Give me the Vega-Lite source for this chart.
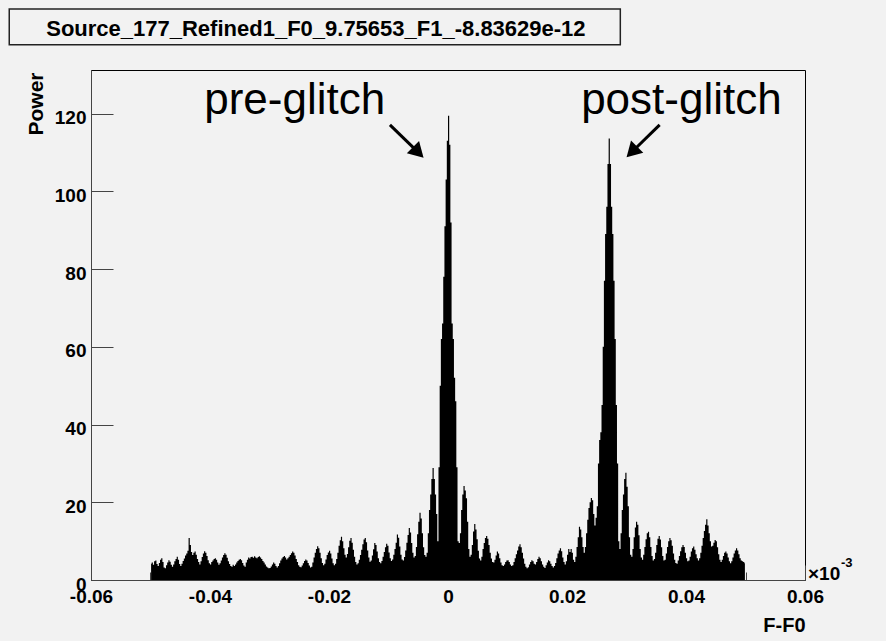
{
  "$schema": "https://vega.github.io/schema/vega-lite/v6.json",
  "width": 714,
  "height": 510,
  "autosize": {"type": "none"},
  "padding": {"left": 91, "top": 70, "right": 81, "bottom": 61},
  "background": "#f2f2f2",
  "config": {
    "font": "Liberation Sans",
    "view": {"stroke": "#000", "strokeWidth": 1}
  },
  "datasets": {
    "spectrum": [
      {"f":-0.0499,"p":4.2},{"f":-0.0497,"p":4.5},{"f":-0.0495,"p":3.9},{"f":-0.0493,"p":4.8},{"f":-0.0491,"p":5.0},{"f":-0.0489,"p":4.1},{"f":-0.0487,"p":3.6},{"f":-0.0485,"p":4.4},{"f":-0.0483,"p":5.2},{"f":-0.0481,"p":5.6},
      {"f":-0.0479,"p":4.6},{"f":-0.0477,"p":3.2},{"f":-0.0475,"p":3.0},{"f":-0.0473,"p":3.8},{"f":-0.0471,"p":4.5},{"f":-0.0469,"p":5.1},{"f":-0.0467,"p":4.7},{"f":-0.0465,"p":3.9},{"f":-0.0463,"p":3.4},{"f":-0.0461,"p":4.0},
      {"f":-0.0459,"p":4.8},{"f":-0.0457,"p":5.4},{"f":-0.0455,"p":6.0},{"f":-0.0453,"p":5.2},{"f":-0.0451,"p":4.1},{"f":-0.0449,"p":3.6},{"f":-0.0447,"p":4.2},{"f":-0.0445,"p":4.9},{"f":-0.0443,"p":5.5},{"f":-0.0441,"p":6.3},
      {"f":-0.0439,"p":6.8},{"f":-0.0437,"p":7.5},{"f":-0.0435,"p":10.8},{"f":-0.0433,"p":9.0},{"f":-0.0431,"p":7.2},{"f":-0.0429,"p":6.4},{"f":-0.0427,"p":7.0},{"f":-0.0425,"p":7.3},{"f":-0.0423,"p":6.5},{"f":-0.0421,"p":5.4},
      {"f":-0.0419,"p":4.6},{"f":-0.0417,"p":4.0},{"f":-0.0415,"p":4.8},{"f":-0.0413,"p":5.9},{"f":-0.0411,"p":6.8},{"f":-0.0409,"p":7.4},{"f":-0.0407,"p":7.0},{"f":-0.0405,"p":6.2},{"f":-0.0403,"p":5.1},{"f":-0.0401,"p":4.3},
      {"f":-0.0399,"p":4.0},{"f":-0.0397,"p":4.6},{"f":-0.0395,"p":5.0},{"f":-0.0393,"p":5.4},{"f":-0.0391,"p":5.6},{"f":-0.0389,"p":5.2},{"f":-0.0387,"p":4.5},{"f":-0.0385,"p":3.9},{"f":-0.0383,"p":4.3},{"f":-0.0381,"p":5.0},
      {"f":-0.0379,"p":5.8},{"f":-0.0377,"p":6.4},{"f":-0.0375,"p":6.9},{"f":-0.0373,"p":6.5},{"f":-0.0371,"p":5.7},{"f":-0.0369,"p":4.8},{"f":-0.0367,"p":4.1},{"f":-0.0365,"p":3.6},{"f":-0.0363,"p":3.4},{"f":-0.0361,"p":3.9},
      {"f":-0.0359,"p":3.6},{"f":-0.0357,"p":4.0},{"f":-0.0355,"p":4.5},{"f":-0.0353,"p":4.9},{"f":-0.0351,"p":5.2},{"f":-0.0349,"p":5.4},{"f":-0.0347,"p":5.1},{"f":-0.0345,"p":4.4},{"f":-0.0343,"p":3.7},{"f":-0.0341,"p":3.4},
      {"f":-0.0339,"p":4.5},{"f":-0.0337,"p":5.2},{"f":-0.0335,"p":5.8},{"f":-0.0333,"p":5.5},{"f":-0.0331,"p":5.9},{"f":-0.0329,"p":6.0},{"f":-0.0327,"p":5.7},{"f":-0.0325,"p":6.1},{"f":-0.0323,"p":5.8},{"f":-0.0321,"p":5.6},
      {"f":-0.0319,"p":5.9},{"f":-0.0317,"p":6.1},{"f":-0.0315,"p":5.8},{"f":-0.0313,"p":5.4},{"f":-0.0311,"p":4.9},{"f":-0.0309,"p":4.5},{"f":-0.0307,"p":4.0},{"f":-0.0305,"p":3.5},{"f":-0.0303,"p":3.2},{"f":-0.0301,"p":3.0},
      {"f":-0.0299,"p":3.1},{"f":-0.0297,"p":3.5},{"f":-0.0295,"p":4.0},{"f":-0.0293,"p":4.5},{"f":-0.0291,"p":4.2},{"f":-0.0289,"p":3.6},{"f":-0.0287,"p":3.2},{"f":-0.0285,"p":3.6},{"f":-0.0283,"p":4.3},{"f":-0.0281,"p":5.0},
      {"f":-0.0279,"p":5.5},{"f":-0.0277,"p":5.9},{"f":-0.0275,"p":6.2},{"f":-0.0273,"p":5.8},{"f":-0.0271,"p":5.3},{"f":-0.0269,"p":5.6},{"f":-0.0267,"p":6.0},{"f":-0.0265,"p":6.4},{"f":-0.0263,"p":6.9},{"f":-0.0261,"p":7.3},
      {"f":-0.0259,"p":7.0},{"f":-0.0257,"p":6.3},{"f":-0.0255,"p":5.4},{"f":-0.0253,"p":4.6},{"f":-0.0251,"p":3.8},{"f":-0.0249,"p":3.4},{"f":-0.0247,"p":3.3},{"f":-0.0245,"p":3.7},{"f":-0.0243,"p":4.3},{"f":-0.0241,"p":4.9},
      {"f":-0.0239,"p":5.3},{"f":-0.0237,"p":5.0},{"f":-0.0235,"p":4.4},{"f":-0.0233,"p":3.7},{"f":-0.0231,"p":3.2},{"f":-0.0229,"p":3.4},{"f":-0.0227,"p":4.5},{"f":-0.0225,"p":5.8},{"f":-0.0223,"p":7.0},{"f":-0.0221,"p":8.0},
      {"f":-0.0219,"p":8.7},{"f":-0.0217,"p":8.2},{"f":-0.0215,"p":7.0},{"f":-0.0213,"p":5.6},{"f":-0.0211,"p":4.4},{"f":-0.0209,"p":3.8},{"f":-0.0207,"p":4.2},{"f":-0.0205,"p":5.3},{"f":-0.0203,"p":6.4},{"f":-0.0201,"p":7.1},
      {"f":-0.0199,"p":7.5},{"f":-0.0197,"p":6.8},{"f":-0.0195,"p":5.5},{"f":-0.0193,"p":4.3},{"f":-0.0191,"p":3.8},{"f":-0.0189,"p":4.2},{"f":-0.0187,"p":5.4},{"f":-0.0185,"p":7.0},{"f":-0.0183,"p":8.8},{"f":-0.0181,"p":10.2},
      {"f":-0.0179,"p":11.1},{"f":-0.0177,"p":10.0},{"f":-0.0175,"p":8.2},{"f":-0.0173,"p":6.5},{"f":-0.0171,"p":5.8},{"f":-0.0169,"p":6.7},{"f":-0.0167,"p":8.4},{"f":-0.0165,"p":10.1},{"f":-0.0163,"p":10.8},{"f":-0.0161,"p":9.6},
      {"f":-0.0159,"p":7.8},{"f":-0.0157,"p":6.0},{"f":-0.0155,"p":4.6},{"f":-0.0153,"p":4.0},{"f":-0.0151,"p":4.3},{"f":-0.0149,"p":5.2},{"f":-0.0147,"p":6.4},{"f":-0.0145,"p":7.8},{"f":-0.0143,"p":9.2},{"f":-0.0141,"p":10.4},
      {"f":-0.0139,"p":10.8},{"f":-0.0137,"p":9.7},{"f":-0.0135,"p":7.6},{"f":-0.0133,"p":5.8},{"f":-0.0131,"p":4.7},{"f":-0.0129,"p":5.0},{"f":-0.0127,"p":6.3},{"f":-0.0125,"p":7.9},{"f":-0.0123,"p":9.5},{"f":-0.0121,"p":9.0},
      {"f":-0.0119,"p":7.3},{"f":-0.0117,"p":5.6},{"f":-0.0115,"p":4.6},{"f":-0.0113,"p":4.3},{"f":-0.0111,"p":4.9},{"f":-0.0109,"p":6.0},{"f":-0.0107,"p":7.2},{"f":-0.0105,"p":8.4},{"f":-0.0103,"p":9.3},{"f":-0.0101,"p":8.8},
      {"f":-0.0099,"p":7.1},{"f":-0.0097,"p":5.6},{"f":-0.0095,"p":4.9},{"f":-0.0093,"p":5.3},{"f":-0.0091,"p":6.5},{"f":-0.0089,"p":8.0},{"f":-0.0087,"p":9.6},{"f":-0.0085,"p":11.7},{"f":-0.0083,"p":10.9},{"f":-0.0081,"p":8.6},
      {"f":-0.0079,"p":6.5},{"f":-0.0077,"p":5.3},{"f":-0.0075,"p":5.0},{"f":-0.0073,"p":5.9},{"f":-0.0071,"p":7.6},{"f":-0.0069,"p":9.6},{"f":-0.0067,"p":11.6},{"f":-0.0065,"p":13.4},{"f":-0.0063,"p":12.2},{"f":-0.0061,"p":9.5},
      {"f":-0.0059,"p":7.0},{"f":-0.0057,"p":5.8},{"f":-0.0055,"p":6.2},{"f":-0.0053,"p":8.5},{"f":-0.0051,"p":11.8},{"f":-0.0049,"p":15.0},{"f":-0.0047,"p":17.3},{"f":-0.0045,"p":15.8},{"f":-0.0043,"p":12.0},{"f":-0.0041,"p":8.4},
      {"f":-0.0039,"p":6.4},{"f":-0.0037,"p":6.0},{"f":-0.0035,"p":7.0},{"f":-0.0033,"p":12.0},{"f":-0.0031,"p":18.0},{"f":-0.0029,"p":22.0},{"f":-0.0027,"p":26.0},{"f":-0.0025,"p":28.8},{"f":-0.0023,"p":26.0},{"f":-0.0021,"p":22.0},
      {"f":-0.0019,"p":17.0},{"f":-0.0017,"p":10.0},{"f":-0.0015,"p":29.0},{"f":-0.0013,"p":50.0},{"f":-0.0011,"p":62.0},{"f":-0.0009,"p":66.0},{"f":-0.0007,"p":78.0},{"f":-0.0005,"p":91.0},{"f":-0.0003,"p":103.0},{"f":-0.0001,"p":113.0},
      {"f":0.0001,"p":119.4},{"f":0.0003,"p":112.0},{"f":0.0005,"p":92.0},{"f":0.0007,"p":66.0},{"f":0.0009,"p":62.0},{"f":0.0011,"p":52.0},{"f":0.0013,"p":46.0},{"f":0.0015,"p":29.0},{"f":0.0017,"p":10.0},{"f":0.0019,"p":9.5},
      {"f":0.0021,"p":12.0},{"f":0.0023,"p":18.0},{"f":0.0025,"p":22.0},{"f":0.0027,"p":24.2},{"f":0.0029,"p":23.0},{"f":0.0031,"p":21.0},{"f":0.0033,"p":15.0},{"f":0.0035,"p":8.0},{"f":0.0037,"p":6.0},{"f":0.0039,"p":6.5},
      {"f":0.0041,"p":9.0},{"f":0.0043,"p":12.5},{"f":0.0045,"p":14.4},{"f":0.0047,"p":13.0},{"f":0.0049,"p":10.5},{"f":0.0051,"p":7.5},{"f":0.0053,"p":5.5},{"f":0.0055,"p":5.0},{"f":0.0057,"p":6.0},{"f":0.0059,"p":8.0},
      {"f":0.0061,"p":9.5},{"f":0.0063,"p":10.8},{"f":0.0065,"p":11.3},{"f":0.0067,"p":10.6},{"f":0.0069,"p":9.0},{"f":0.0071,"p":7.0},{"f":0.0073,"p":5.5},{"f":0.0075,"p":4.6},{"f":0.0077,"p":4.5},{"f":0.0079,"p":5.2},
      {"f":0.0081,"p":6.3},{"f":0.0083,"p":7.3},{"f":0.0085,"p":6.8},{"f":0.0087,"p":5.6},{"f":0.0089,"p":4.5},{"f":0.0091,"p":3.8},{"f":0.0093,"p":3.6},{"f":0.0095,"p":4.0},{"f":0.0097,"p":4.6},{"f":0.0099,"p":5.0},
      {"f":0.0101,"p":5.1},{"f":0.0103,"p":4.6},{"f":0.0105,"p":4.0},{"f":0.0107,"p":3.6},{"f":0.0109,"p":3.8},{"f":0.0111,"p":4.6},{"f":0.0113,"p":5.6},{"f":0.0115,"p":6.6},{"f":0.0117,"p":7.6},{"f":0.0119,"p":8.6},
      {"f":0.0121,"p":9.2},{"f":0.0123,"p":8.4},{"f":0.0125,"p":7.0},{"f":0.0127,"p":5.5},{"f":0.0129,"p":4.2},{"f":0.0131,"p":3.4},{"f":0.0133,"p":3.0},{"f":0.0135,"p":3.3},{"f":0.0137,"p":4.0},{"f":0.0139,"p":4.6},
      {"f":0.0141,"p":5.1},{"f":0.0143,"p":4.8},{"f":0.0145,"p":4.2},{"f":0.0147,"p":4.0},{"f":0.0149,"p":4.6},{"f":0.0151,"p":5.4},{"f":0.0153,"p":6.0},{"f":0.0155,"p":5.6},{"f":0.0157,"p":4.8},{"f":0.0159,"p":4.0},
      {"f":0.0161,"p":3.4},{"f":0.0163,"p":3.1},{"f":0.0165,"p":3.8},{"f":0.0167,"p":4.5},{"f":0.0169,"p":5.1},{"f":0.0171,"p":4.8},{"f":0.0173,"p":4.2},{"f":0.0175,"p":3.6},{"f":0.0177,"p":3.2},{"f":0.0179,"p":3.6},
      {"f":0.0181,"p":4.4},{"f":0.0183,"p":5.6},{"f":0.0185,"p":6.8},{"f":0.0187,"p":7.6},{"f":0.0189,"p":8.2},{"f":0.0191,"p":7.4},{"f":0.0193,"p":5.8},{"f":0.0195,"p":4.6},{"f":0.0197,"p":4.0},{"f":0.0199,"p":4.8},
      {"f":0.0201,"p":6.5},{"f":0.0203,"p":8.0},{"f":0.0205,"p":7.2},{"f":0.0207,"p":8.0},{"f":0.0209,"p":7.0},{"f":0.0211,"p":5.2},{"f":0.0213,"p":4.6},{"f":0.0215,"p":6.0},{"f":0.0217,"p":8.5},{"f":0.0219,"p":11.0},
      {"f":0.0221,"p":13.7},{"f":0.0223,"p":13.0},{"f":0.0225,"p":11.0},{"f":0.0227,"p":8.5},{"f":0.0229,"p":7.0},{"f":0.0231,"p":8.5},{"f":0.0233,"p":12.0},{"f":0.0235,"p":15.5},{"f":0.0237,"p":18.5},{"f":0.0239,"p":20.0},
      {"f":0.0241,"p":21.1},{"f":0.0243,"p":20.5},{"f":0.0245,"p":17.0},{"f":0.0247,"p":14.0},{"f":0.0249,"p":16.0},{"f":0.0251,"p":19.0},{"f":0.0253,"p":30.0},{"f":0.0255,"p":36.0},{"f":0.0257,"p":38.0},{"f":0.0259,"p":45.0},
      {"f":0.0261,"p":60.0},{"f":0.0263,"p":77.0},{"f":0.0265,"p":89.0},{"f":0.0267,"p":96.0},{"f":0.0269,"p":107.0},{"f":0.0271,"p":113.6},{"f":0.0273,"p":107.0},{"f":0.0275,"p":96.0},{"f":0.0277,"p":89.0},{"f":0.0279,"p":77.0},
      {"f":0.0281,"p":62.0},{"f":0.0283,"p":45.0},{"f":0.0285,"p":30.0},{"f":0.0287,"p":10.0},{"f":0.0289,"p":8.0},{"f":0.0291,"p":12.0},{"f":0.0293,"p":18.0},{"f":0.0295,"p":22.0},{"f":0.0297,"p":26.0},{"f":0.0299,"p":27.6},
      {"f":0.0301,"p":24.0},{"f":0.0303,"p":19.0},{"f":0.0305,"p":11.0},{"f":0.0307,"p":6.5},{"f":0.0309,"p":6.0},{"f":0.0311,"p":8.0},{"f":0.0313,"p":11.0},{"f":0.0315,"p":13.5},{"f":0.0317,"p":15.0},{"f":0.0319,"p":14.2},
      {"f":0.0321,"p":11.5},{"f":0.0323,"p":8.0},{"f":0.0325,"p":5.8},{"f":0.0327,"p":5.2},{"f":0.0329,"p":6.5},{"f":0.0331,"p":8.5},{"f":0.0333,"p":10.5},{"f":0.0335,"p":12.0},{"f":0.0337,"p":12.4},{"f":0.0339,"p":11.0},
      {"f":0.0341,"p":8.5},{"f":0.0343,"p":6.2},{"f":0.0345,"p":5.0},{"f":0.0347,"p":5.4},{"f":0.0349,"p":7.0},{"f":0.0351,"p":9.0},{"f":0.0353,"p":10.6},{"f":0.0355,"p":11.3},{"f":0.0357,"p":10.4},{"f":0.0359,"p":8.4},
      {"f":0.0361,"p":6.2},{"f":0.0363,"p":5.0},{"f":0.0365,"p":5.2},{"f":0.0367,"p":6.8},{"f":0.0369,"p":8.5},{"f":0.0371,"p":10.0},{"f":0.0373,"p":10.8},{"f":0.0375,"p":10.2},{"f":0.0377,"p":8.8},{"f":0.0379,"p":6.8},
      {"f":0.0381,"p":5.2},{"f":0.0383,"p":4.4},{"f":0.0385,"p":4.2},{"f":0.0387,"p":5.0},{"f":0.0389,"p":6.2},{"f":0.0391,"p":7.4},{"f":0.0393,"p":8.4},{"f":0.0395,"p":9.0},{"f":0.0397,"p":8.5},{"f":0.0399,"p":7.0},
      {"f":0.0401,"p":5.6},{"f":0.0403,"p":4.8},{"f":0.0405,"p":5.0},{"f":0.0407,"p":6.0},{"f":0.0409,"p":7.3},{"f":0.0411,"p":8.2},{"f":0.0413,"p":8.6},{"f":0.0415,"p":7.8},{"f":0.0417,"p":6.6},{"f":0.0419,"p":5.6},
      {"f":0.0421,"p":5.0},{"f":0.0423,"p":5.6},{"f":0.0425,"p":7.0},{"f":0.0427,"p":8.8},{"f":0.0429,"p":10.8},{"f":0.0431,"p":12.6},{"f":0.0433,"p":14.2},{"f":0.0435,"p":15.6},{"f":0.0437,"p":14.0},{"f":0.0439,"p":12.0},
      {"f":0.0441,"p":10.0},{"f":0.0443,"p":8.6},{"f":0.0445,"p":8.8},{"f":0.0447,"p":9.6},{"f":0.0449,"p":10.3},{"f":0.0451,"p":10.0},{"f":0.0453,"p":8.4},{"f":0.0455,"p":6.6},{"f":0.0457,"p":5.2},{"f":0.0459,"p":4.6},
      {"f":0.0461,"p":5.2},{"f":0.0463,"p":6.2},{"f":0.0465,"p":7.0},{"f":0.0467,"p":7.3},{"f":0.0469,"p":6.8},{"f":0.0471,"p":5.8},{"f":0.0473,"p":4.8},{"f":0.0475,"p":4.3},{"f":0.0477,"p":4.8},{"f":0.0479,"p":5.8},
      {"f":0.0481,"p":6.8},{"f":0.0483,"p":7.6},{"f":0.0485,"p":8.2},{"f":0.0487,"p":7.6},{"f":0.0489,"p":6.6},{"f":0.0491,"p":5.6},{"f":0.0493,"p":5.0},{"f":0.0495,"p":4.8},{"f":0.0497,"p":4.6},{"f":0.0499,"p":4.3}
    ],
    "arrows": [
      {"name": "pre", "f": -0.00976, "p": 117.1, "f2": -0.0050, "p2": 110.0},
      {"name": "post", "f": 0.03557, "p": 117.1, "f2": 0.0309, "p2": 110.1}
    ],
    "labels": [
      {"f": -0.02576, "p": 119.9, "text": "pre-glitch"},
      {"f": 0.03923, "p": 119.9, "text": "post-glitch"}
    ],
    "titlebox": [
      {"f": -0.07374, "p": 146.9, "f2": 0.02896, "p2": 137.7, "text": "Source_177_Refined1_F0_9.75653_F1_-8.83629e-12", "tf": -0.0222, "tp": 139.9}
    ],
    "exponent": [
      {"f": 0.06, "p": 0}
    ]
  },
  "layer": [
    {
      "data": {"name": "spectrum"},
      "mark": {"type": "area", "interpolate": "step", "color": "#000"},
      "encoding": {
        "x": {
          "field": "f", "type": "quantitative",
          "scale": {"domain": [-0.06, 0.06], "nice": false, "zero": false},
          "axis": {
            "values": [-0.06, -0.055, -0.05, -0.045, -0.04, -0.035, -0.03, -0.025, -0.02, -0.015, -0.01, -0.005, 0, 0.005, 0.01, 0.015, 0.02, 0.025, 0.03, 0.035, 0.04, 0.045, 0.05, 0.055, 0.06],
            "grid": false,
            "domainColor": "#444",
            "tickColor": "#444",
            "tickSize": {"condition": {"test": "abs(datum.value * 50 - round(datum.value * 50)) < 1e-6", "value": -15}, "value": -8},
            "labelExpr": "abs(datum.value * 50 - round(datum.value * 50)) < 1e-6 ? (datum.value < -1e-9 ? '-' : '') + format(abs(datum.value), '~g') : ''",
            "labelPadding": 22,
            "labelFontSize": 19,
            "labelFontWeight": "bold",
            "labelColor": "#000",
            "labelBaseline": "top",
            "labelFlush": false,
            "labelOverlap": false,
            "title": "F-F0",
            "titleFontSize": 20,
            "titleFontWeight": "bold",
            "titleColor": "#000",
            "titleAnchor": "end",
            "titleAlign": "right",
            "titleBaseline": "alphabetic",
            "titleX": 714,
            "titleY": 51
          }
        },
        "y": {
          "field": "p", "type": "quantitative",
          "scale": {"domain": [0, 131.2], "nice": false},
          "axis": {
            "values": [0, 5, 10, 15, 20, 25, 30, 35, 40, 45, 50, 55, 60, 65, 70, 75, 80, 85, 90, 95, 100, 105, 110, 115, 120, 125, 130],
            "grid": false,
            "domainColor": "#444",
            "tickColor": "#444",
            "tickSize": {"condition": {"test": "datum.value % 20 === 0", "value": -22}, "value": -11},
            "labelExpr": "datum.value % 20 === 0 ? datum.label : ''",
            "labelPadding": 27,
            "labelOffset": 4,
            "labelFontSize": 19,
            "labelFontWeight": "bold",
            "labelColor": "#000",
            "labelAlign": "right",
            "labelBaseline": "middle",
            "labelFlush": false,
            "labelOverlap": false,
            "title": "Power",
            "titleFontSize": 21,
            "titleFontWeight": "bold",
            "titleColor": "#000",
            "titleAngle": 270,
            "titleAnchor": "end",
            "titleAlign": "right",
            "titleBaseline": "middle",
            "titleX": -55,
            "titleY": 2
          }
        }
      }
    },
    {
      "data": {"name": "titlebox"},
      "mark": {"type": "rect", "fill": "#f2f2f2", "stroke": "#222", "strokeWidth": 1.5},
      "encoding": {
        "x": {"field": "f", "type": "quantitative"},
        "x2": {"field": "f2"},
        "y": {"field": "p", "type": "quantitative"},
        "y2": {"field": "p2"}
      }
    },
    {
      "data": {"name": "titlebox"},
      "mark": {"type": "text", "align": "center", "baseline": "alphabetic", "fontSize": 22, "fontWeight": "bold", "color": "#000"},
      "encoding": {
        "x": {"field": "tf", "type": "quantitative"},
        "y": {"field": "tp", "type": "quantitative"},
        "text": {"field": "text"}
      }
    },
    {
      "data": {"name": "labels"},
      "mark": {"type": "text", "align": "center", "baseline": "alphabetic", "fontSize": 44, "color": "#000"},
      "encoding": {
        "x": {"field": "f", "type": "quantitative"},
        "y": {"field": "p", "type": "quantitative"},
        "text": {"field": "text"}
      }
    },
    {
      "data": {"name": "arrows"},
      "mark": {"type": "rule", "strokeWidth": 3, "color": "#000"},
      "encoding": {
        "x": {"field": "f", "type": "quantitative"},
        "y": {"field": "p", "type": "quantitative"},
        "x2": {"field": "f2"},
        "y2": {"field": "p2"}
      }
    },
    {
      "data": {"name": "arrows"},
      "transform": [{"filter": "datum.name === 'pre'"}],
      "mark": {"type": "point", "shape": "triangle-up", "filled": true, "size": 300, "angle": 135, "color": "#000", "opacity": 1},
      "encoding": {
        "x": {"field": "f2", "type": "quantitative"},
        "y": {"field": "p2", "type": "quantitative"}
      }
    },
    {
      "data": {"name": "arrows"},
      "transform": [{"filter": "datum.name === 'post'"}],
      "mark": {"type": "point", "shape": "triangle-up", "filled": true, "size": 300, "angle": 225, "color": "#000", "opacity": 1},
      "encoding": {
        "x": {"field": "f2", "type": "quantitative"},
        "y": {"field": "p2", "type": "quantitative"}
      }
    },
    {
      "data": {"name": "exponent"},
      "mark": {"type": "text", "align": "left", "baseline": "alphabetic", "fontSize": 19, "fontWeight": "bold", "dx": 3, "color": "#000", "text": "×10"},
      "encoding": {
        "x": {"field": "f", "type": "quantitative"},
        "y": {"field": "p", "type": "quantitative"}
      }
    },
    {
      "data": {"name": "exponent"},
      "mark": {"type": "text", "align": "left", "baseline": "alphabetic", "fontSize": 13, "fontWeight": "bold", "dx": 36, "dy": -13, "color": "#000", "text": "-3"},
      "encoding": {
        "x": {"field": "f", "type": "quantitative"},
        "y": {"field": "p", "type": "quantitative"}
      }
    }
  ]
}
